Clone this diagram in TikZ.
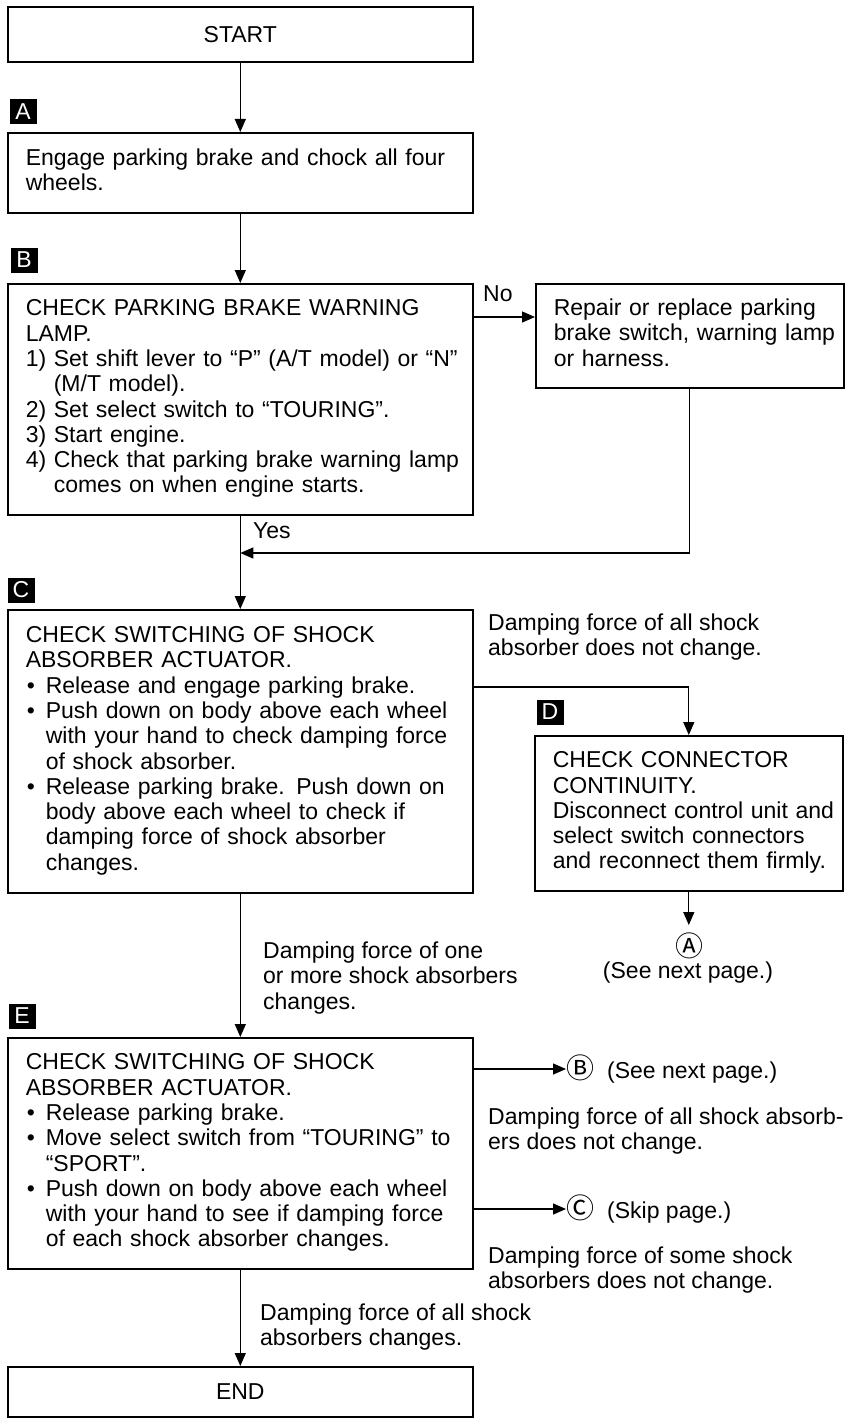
\documentclass[tikz,border=0pt]{standalone}
\usepackage{fontspec}
\setmainfont{Liberation Sans}
\newfontfamily\circfont{Noto Sans CJK JP}
\usetikzlibrary{arrows.meta,calc}
\newcommand\mainfs{\fontsize{23}{25.3}\selectfont}
\newcommand\circfs{\circfont\fontsize{28}{28}\selectfont}
\newcommand\lines[1]{\begin{tabular}{@{}l@{}}#1\end{tabular}}
\newcommand\mynum[1]{\makebox[28pt][l]{#1}}
\newcommand\mybul{\makebox[20pt][l]{\hspace{1pt}•}}
\newcommand\mysub{\hspace*{20pt}}
\begin{document}
\begin{tikzpicture}[x=1pt,y=-1pt,
  box/.style={draw, line width=1.6pt, rectangle, anchor=north west, inner xsep=18pt, inner ysep=0pt,
    minimum width=465pt, text width=429pt, align=left, font=\mainfs},
  sidebox/.style={box, minimum width=308pt, text width=272pt},
  tag/.style={fill=black, text=white, minimum width=27pt, minimum height=25pt, inner sep=0pt,
    font=\fontsize{23}{23}\selectfont},
  note/.style={anchor=north west, inner sep=0pt, align=left, font=\mainfs},
  conn/.style={line width=1.3pt, -{Triangle[length=13pt,width=11pt]}},
  ref/.style={anchor=west, inner sep=0pt, font=\mainfs},
  circ/.style={inner sep=0pt, font=\circfs}
]
\fill[white] (0,0) rectangle (845,1418);
\useasboundingbox (0,0) rectangle (845,1418);

% boxes
\node[box, minimum height=55pt, align=center] (start) at (7,6) {START};
\node[box, minimum height=80pt] (boxA) at (7,132) {\lines{Engage parking brake and chock all four\\wheels.}};
\node[box, minimum height=231pt] (boxB) at (7,283) {\lines{CHECK PARKING BRAKE WARNING\\LAMP.\\
\mynum{1)}Set shift lever to “P” (A/T model) or “N”\\
\mynum{}(M/T model).\\
\mynum{2)}Set select switch to “TOURING”.\\
\mynum{3)}Start engine.\\
\mynum{4)}Check that parking brake warning lamp\\
\mynum{}comes on when engine starts.}};
\node[sidebox, minimum height=104pt] (repair) at (535,283) {\lines{Repair or replace parking\\brake switch, warning lamp\\or harness.}};
\node[box, minimum height=283pt] (boxC) at (7,609) {\lines{CHECK SWITCHING OF SHOCK\\ABSORBER ACTUATOR.\\
\mybul Release and engage parking brake.\\
\mybul Push down on body above each wheel\\
\mysub with your hand to check damping force\\
\mysub of shock absorber.\\
\mybul Release parking brake. Push down on\\
\mysub body above each wheel to check if\\
\mysub damping force of shock absorber\\
\mysub changes.}};
\node[sidebox, minimum height=155pt] (boxD) at (534,735) {\lines{CHECK CONNECTOR\\CONTINUITY.\\Disconnect control unit and\\select switch connectors\\and reconnect them firmly.}};
\node[box, minimum height=231pt] (boxE) at (7,1037) {\lines{CHECK SWITCHING OF SHOCK\\ABSORBER ACTUATOR.\\
\mybul Release parking brake.\\
\mybul Move select switch from “TOURING” to\\
\mysub “SPORT”.\\
\mybul Push down on body above each wheel\\
\mysub with your hand to see if damping force\\
\mysub of each shock absorber changes.}};
\node[box, minimum height=50pt, align=center] (endbox) at (7,1366) {END};

% step tags
\node[tag] (tagA) at (23,112) {A};
\node[tag] (tagB) at (24,260) {B};
\node[tag] (tagC) at (21,590) {C};
\node[tag] (tagD) at (550,712) {D};
\node[tag] (tagE) at (22,1016) {E};

% notes
\node[note] (noLbl) at (483,283.5) {\lines{No}};
\node[note] (yesLbl) at (253,520.5) {\lines{Yes}};
\node[note] (cdLbl) at (488,612.5) {\lines{Damping force of all shock\\absorber does not change.}};
\node[note] (ceLbl) at (263,940.5) {\lines{Damping force of one\\or more shock absorbers\\changes.}};
\node[note] (ebLbl) at (488,1106.5) {\lines{Damping force of all shock absorb-\\ers does not change.}};
\node[note] (ecLbl) at (488,1245.5) {\lines{Damping force of some shock\\absorbers does not change.}};
\node[note] (eeLbl) at (260,1302.5) {\lines{Damping force of all shock\\absorbers changes.}};

% page references
\node[circ] (circA) at (689,946) {Ⓐ};
\node[font=\mainfs, inner sep=0pt] (seeA) at (688,973) {(See next page.)};
\node[ref] (toB) at (566,1069) {{\circfs Ⓑ}\hspace{13pt}(See next page.)};
\node[ref] (toC) at (566,1209) {{\circfs Ⓒ}\hspace{13pt}(Skip page.)};

% connectors
\coordinate (noRow) at (0,317);
\coordinate (yesRow) at (0,553);
\coordinate (cdRow) at (0,687);
\coordinate (aTip) at (boxD.south |- 0,925);
\draw[conn] (start.south) -- (boxA.north);
\draw[conn] (boxA.south) -- (boxB.north);
\draw[conn] (boxB.east |- noRow) -- (repair.west |- noRow);
\draw[conn] (repair.south) -- (repair.south |- yesRow) -- (boxB.south |- yesRow);
\draw[conn] (boxB.south) -- (boxC.north);
\draw[conn] (boxC.east |- cdRow) -| (boxD.north);
\draw[conn] (boxD.south) -- (aTip);
\draw[conn] (boxC.south) -- (boxE.north);
\draw[conn] (boxE.east |- toB.west) -- (toB.west);
\draw[conn] (boxE.east |- toC.west) -- (toC.west);
\draw[conn] (boxE.south) -- (endbox.north);
\end{tikzpicture}
\end{document}
